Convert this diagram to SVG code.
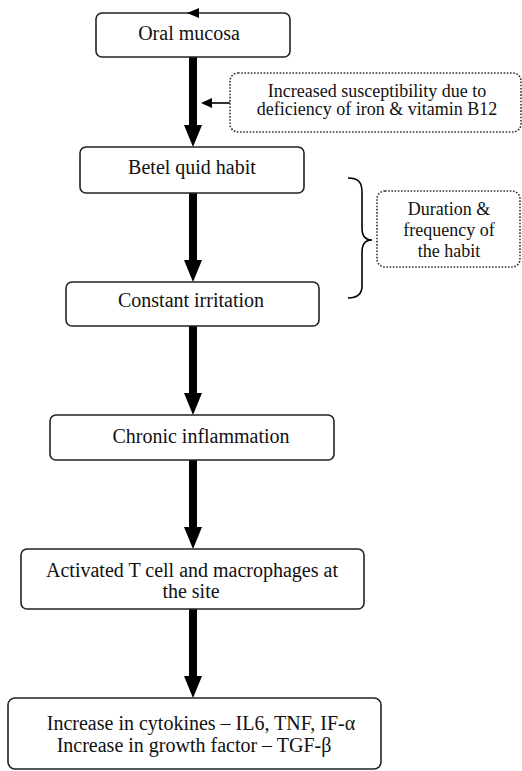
<svg xmlns="http://www.w3.org/2000/svg" width="522" height="771" viewBox="0 0 522 771">
<defs>
<style>
.box{fill:#fff;stroke:#222;stroke-width:1.6}
.dot{fill:#fff;stroke:#333;stroke-width:1.6;stroke-dasharray:1.6 1.6}
text{font-family:'Liberation Serif','Times New Roman',Times,serif;fill:#111;text-anchor:middle}
.t{font-size:20px}
.s{font-size:18px}
.shaft{stroke:#000;stroke-width:8;fill:none}
.thin{stroke:#000;stroke-width:1.6;fill:none}
</style>
<marker id="big" markerUnits="userSpaceOnUse" markerWidth="22" markerHeight="18" refX="0" refY="9" orient="auto" viewBox="0 0 22 18">
<path d="M0,0 L22,9 L0,18 z" fill="#000"/>
</marker>
<marker id="small" markerUnits="userSpaceOnUse" markerWidth="11" markerHeight="10" refX="0" refY="5" orient="auto" viewBox="0 0 11 10">
<path d="M0,0 L11,5 L0,10 z" fill="#000"/>
</marker>
</defs>
<rect width="522" height="771" fill="#fff"/>

<g id="connectors">
<line class="shaft" x1="193" y1="57" x2="193" y2="125" marker-end="url(#big)"/>
<line class="shaft" x1="193" y1="193" x2="193" y2="260" marker-end="url(#big)"/>
<line class="shaft" x1="193" y1="326" x2="193" y2="393" marker-end="url(#big)"/>
<line class="shaft" x1="193" y1="460" x2="193" y2="527" marker-end="url(#big)"/>
<line class="shaft" x1="193" y1="609" x2="193" y2="676" marker-end="url(#big)"/>
<line class="thin" x1="230" y1="103" x2="212" y2="103" marker-end="url(#small)"/>
<path class="thin" d="M348,178 C358,178 362,182 362,192 L362,228 C362,236 366,240 372,240 C366,240 362,244 362,252 L362,286 C362,294 358,298 348,298" stroke-width="2.5"/>
</g>

<g id="oral-mucosa">
<rect class="box" x="96" y="13" width="194" height="44" rx="6"/>
<path d="M187,13 L199,8 L199,18 z" fill="#000"/>
<text class="t" x="189" y="40">Oral mucosa</text>
</g>

<g id="susceptibility">
<rect class="dot" x="230" y="73" width="291" height="59" rx="8"/>
<text class="s" x="377" y="97">Increased susceptibility due to</text>
<text class="s" x="377" y="115">deficiency of iron &amp; vitamin B12</text>
</g>

<g id="betel-quid">
<rect class="box" x="80" y="147" width="224" height="46" rx="6"/>
<text class="t" x="192" y="174">Betel quid habit</text>
</g>

<g id="duration">
<rect class="dot" x="377" y="191" width="143" height="76" rx="8"/>
<text class="s" x="449" y="215">Duration &amp;</text>
<text class="s" x="449" y="236">frequency of</text>
<text class="s" x="449" y="257">the habit</text>
</g>

<g id="constant-irritation">
<rect class="box" x="66" y="282" width="253" height="44" rx="6"/>
<text class="t" x="191" y="307">Constant irritation</text>
</g>

<g id="chronic-inflammation">
<rect class="box" x="50" y="415" width="284" height="45" rx="6"/>
<text class="t" x="201" y="443">Chronic inflammation</text>
</g>

<g id="activated">
<rect class="box" x="21" y="549" width="343" height="60" rx="6"/>
<text class="t" x="192" y="577">Activated T cell and macrophages at</text>
<text class="t" x="191" y="598">the site</text>
</g>

<g id="increase">
<rect class="box" x="8" y="698" width="373" height="71" rx="7"/>
<text class="t" x="201" y="730">Increase in cytokines – IL6, TNF, IF-α</text>
<text class="t" x="194" y="752">Increase in growth factor – TGF-β</text>
</g>
</svg>
